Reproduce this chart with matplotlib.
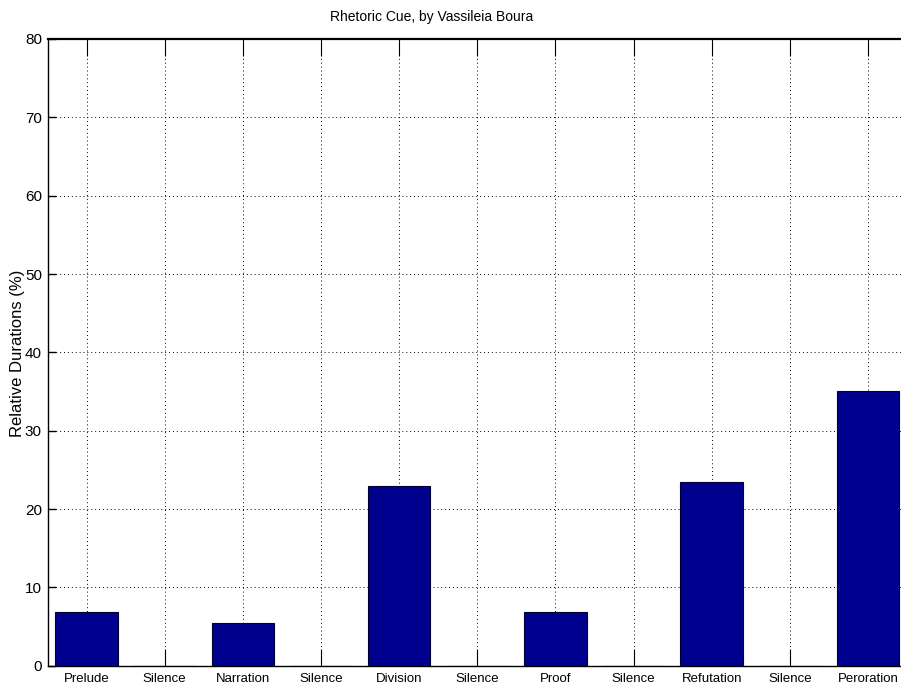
import matplotlib
matplotlib.use("Agg")
import matplotlib.pyplot as plt
import numpy as np

# Rhetoric sections and their relative durations (%)
sections = ["Prelude", "Silence", "Narration", "Silence", "Division", "Silence",
            "Proof", "Silence", "Refutation", "Silence", "Peroration"]
durations = [6.8, 0.0, 5.5, 0.0, 23.0, 0.0, 6.9, 0.0, 23.4, 0.0, 35.1]
y_ticks = [0, 10, 20, 30, 40, 50, 60, 70, 80]

fonts = ["Liberation Sans", "DejaVu Sans"]

fig = plt.figure(figsize=(9.01, 6.93), dpi=100)
W, H = 901, 693
left, right, top, bottom = 47.5, 907, 39, 665.7
ax = fig.add_axes([left / W, (H - bottom) / H, (right - left) / W, (bottom - top) / H])

x = np.arange(1, len(sections) + 1)
ax.bar(x, durations, width=0.8, color="#00008F", edgecolor="#000033",
       linewidth=0.8, zorder=3)

ax.set_xlim(0.5, len(sections) + 0.5)
ax.set_ylim(0, 80)
ax.set_xticks(x)
ax.set_xticklabels(sections, fontfamily=fonts, fontsize=9.5)
ax.set_yticks(y_ticks)
ax.set_yticklabels([str(v) for v in y_ticks], fontfamily=fonts, fontsize=11)

ax.set_axisbelow(True)
ax.grid(True, linestyle=(0, (1, 3)), color="black", linewidth=0.7)
ax.tick_params(axis="x", direction="in", length=12, width=0.8, top=True,
               pad=5)
ax.tick_params(axis="y", direction="in", length=6, width=1.0, right=False,
               pad=4)
for side in ("left", "bottom", "top"):
    ax.spines[side].set_linewidth(1.0)
ax.spines["top"].set_linewidth(1.6)

fig.text(18 / W, 1 - 353 / H, "Relative Durations (%)", rotation=90,
         ha="center", va="center", fontfamily=fonts, fontsize=12)

fig.text(431.5 / W, 1 - 17 / H, "Rhetoric Cue, by Vassileia Boura",
         ha="center", va="center", fontfamily=fonts, fontsize=10)

fig.savefig("out.png", dpi=100, facecolor="white")
